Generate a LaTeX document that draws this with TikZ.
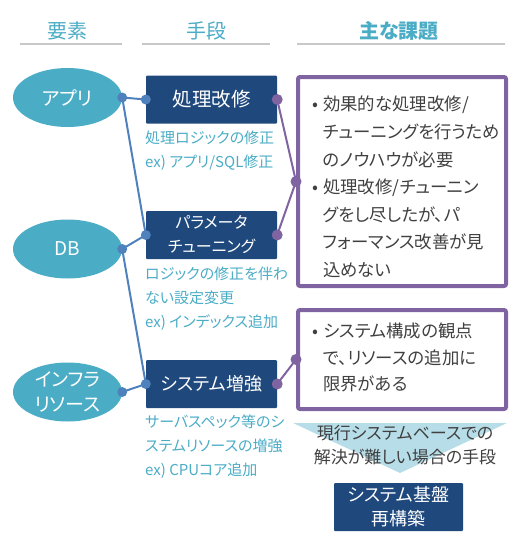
\documentclass[tikz,border=0pt]{standalone}
\usepackage{fontspec}
\setmainfont{Noto Sans CJK JP}[RawFeature=+palt]
\usepackage{xcolor}
\usetikzlibrary{shapes.geometric}

\definecolor{appteal}{HTML}{4BACC6}
\definecolor{boxnavy}{HTML}{1F497D}
\definecolor{dotblue}{HTML}{4F81BD}
\definecolor{issuepurple}{HTML}{8064A2}
\definecolor{trilight}{HTML}{B7DEE8}
\definecolor{textgray}{HTML}{404040}
\definecolor{linegray}{HTML}{C8C8C8}

\begin{document}
\begin{tikzpicture}[x=1pt,y=-1pt,
  head/.style={text=appteal, inner sep=0pt, font=\fontsize{20}{24}\selectfont},
  headline/.style={draw=linegray, line width=1.2pt},
  elem/.style={ellipse, fill=appteal, text=white, minimum width=109pt, minimum height=59pt,
    inner sep=0pt, align=center, font=\fontsize{19}{25}\selectfont},
  means/.style={fill=boxnavy, text=white, minimum width=131pt, minimum height=48pt,
    inner sep=0pt, align=center, rounded corners=1pt},
  issue/.style={draw=issuepurple, line width=4pt, minimum width=208pt, inner sep=0pt, rounded corners=2pt},
  issuetext/.style={text=textgray, anchor=north west, inner sep=0pt, align=left,
    font=\fontsize{17.4}{27.6}\selectfont},
  note/.style={text=appteal, anchor=north west, inner sep=0pt, align=left,
    font=\fontsize{15}{24}\selectfont},
  bdot/.style={circle, fill=dotblue, minimum size=10pt, inner sep=0pt},
  pdot/.style={circle, fill=issuepurple, minimum size=11pt, inner sep=0pt},
  blink/.style={draw=dotblue, line width=2pt},
  plink/.style={draw=issuepurple, line width=2pt}]
\useasboundingbox (0,0) rectangle (517,539);

% column headers
\node[head] (hElem) at (68,31) {要素};
\node[head] (hMeans) at (206,31) {手段};
\node[head] (hIssue) at (399,31) {\bfseries 主な課題};
\draw[headline] (20,44) -- (122,44);
\draw[headline] (142,44) -- (270,44);
\draw[headline] (297,44) -- (505,44);

% elements
\node[elem] (app) at (67.5,97.5) {アプリ};
\node[elem] (db) at (67.5,249) {DB};
\node[elem] (infra) at (67.5,392) {インフラ\\リソース};

% means
\node[means, font=\fontsize{19.5}{24}\selectfont] (tune) at (211.5,99.5) {処理改修};
\node[means, font=\fontsize{16}{24}\selectfont] (param) at (211.5,235) {パラメータ\\チューニング};
\node[means, font=\fontsize{18}{24}\selectfont] (scale) at (211.5,384) {システム増強};

\node[note] (noteTune) at (145,131) {処理ロジックの修正\\ex) アプリ/SQL修正};
\node[note] (noteParam) at (145,267) {ロジックの修正を伴わ\\ない設定変更\\ex) インデックス追加};
\node[note] (noteScale) at (145,415) {サーバスペック等のシ\\ステムリソースの増強\\ex) CPUコア追加};

% issues
\node[issue, minimum height=209pt] (iss1) at (402,181.5) {};
\node[issue, minimum height=99pt] (iss2) at (402,359.5) {};

\node[issuetext] (issText1) at (312,96) {\makebox[11pt][l]{•}効果的な処理改修/\\
\hspace*{11pt}チューニングを行うため\\
\hspace*{11pt}のノウハウが必要\\
\makebox[11pt][l]{•}処理改修/チューニン\\
\hspace*{11pt}グをし尽したが、パ\\
\hspace*{11pt}フォーマンス改善が見\\
\hspace*{11pt}込めない};
\node[issuetext, font=\fontsize{17.4}{26.5}\selectfont] (issText2) at (312,323) {\makebox[11pt][l]{•}システム構成の観点\\
\hspace*{11pt}で、リソースの追加に\\
\hspace*{11pt}限界がある};

% dots
\node[bdot] (appR) at (app.east) {};
\node[bdot] (dbR) at (db.east) {};
\node[bdot] (infraR) at (infra.east) {};
\node[bdot] (tuneL) at (tune.west) {};
\node[bdot] (paramL) at (param.west) {};
\node[bdot] (scaleL) at (scale.west) {};
\node[pdot] (tuneR) at (tune.east) {};
\node[pdot] (paramR) at (param.east) {};
\node[pdot] (scaleR) at (scale.east) {};
\node[pdot] (iss1L) at (iss1.west) {};
\node[pdot] (iss2L) at (iss2.west) {};

% links
\draw[blink] (appR.center) -- (tuneL.center);
\draw[blink] (appR.center) -- (paramL.center);
\draw[blink] (dbR.center) -- (paramL.center);
\draw[blink] (dbR.center) -- (scaleL.center);
\draw[blink] (infraR.center) -- (scaleL.center);
\draw[plink] (tuneR.center) -- (iss1L.center);
\draw[plink] (paramR.center) -- (iss1L.center);
\draw[plink] (scaleR.center) -- (iss2L.center);

% fallback
\fill[trilight] (293,423) -- (507,423) -- (400,473) -- cycle;
\node[text=textgray, align=center, inner sep=0pt, font=\fontsize{17}{24}\selectfont] (triText) at (405,445) {現行システムベースでの\\解決が難しい場合の手段};
\node[means, minimum width=129pt, font=\fontsize{18}{24}\selectfont] (rebuild) at (398.5,507) {システム基盤\\再構築};

\end{tikzpicture}
\end{document}
